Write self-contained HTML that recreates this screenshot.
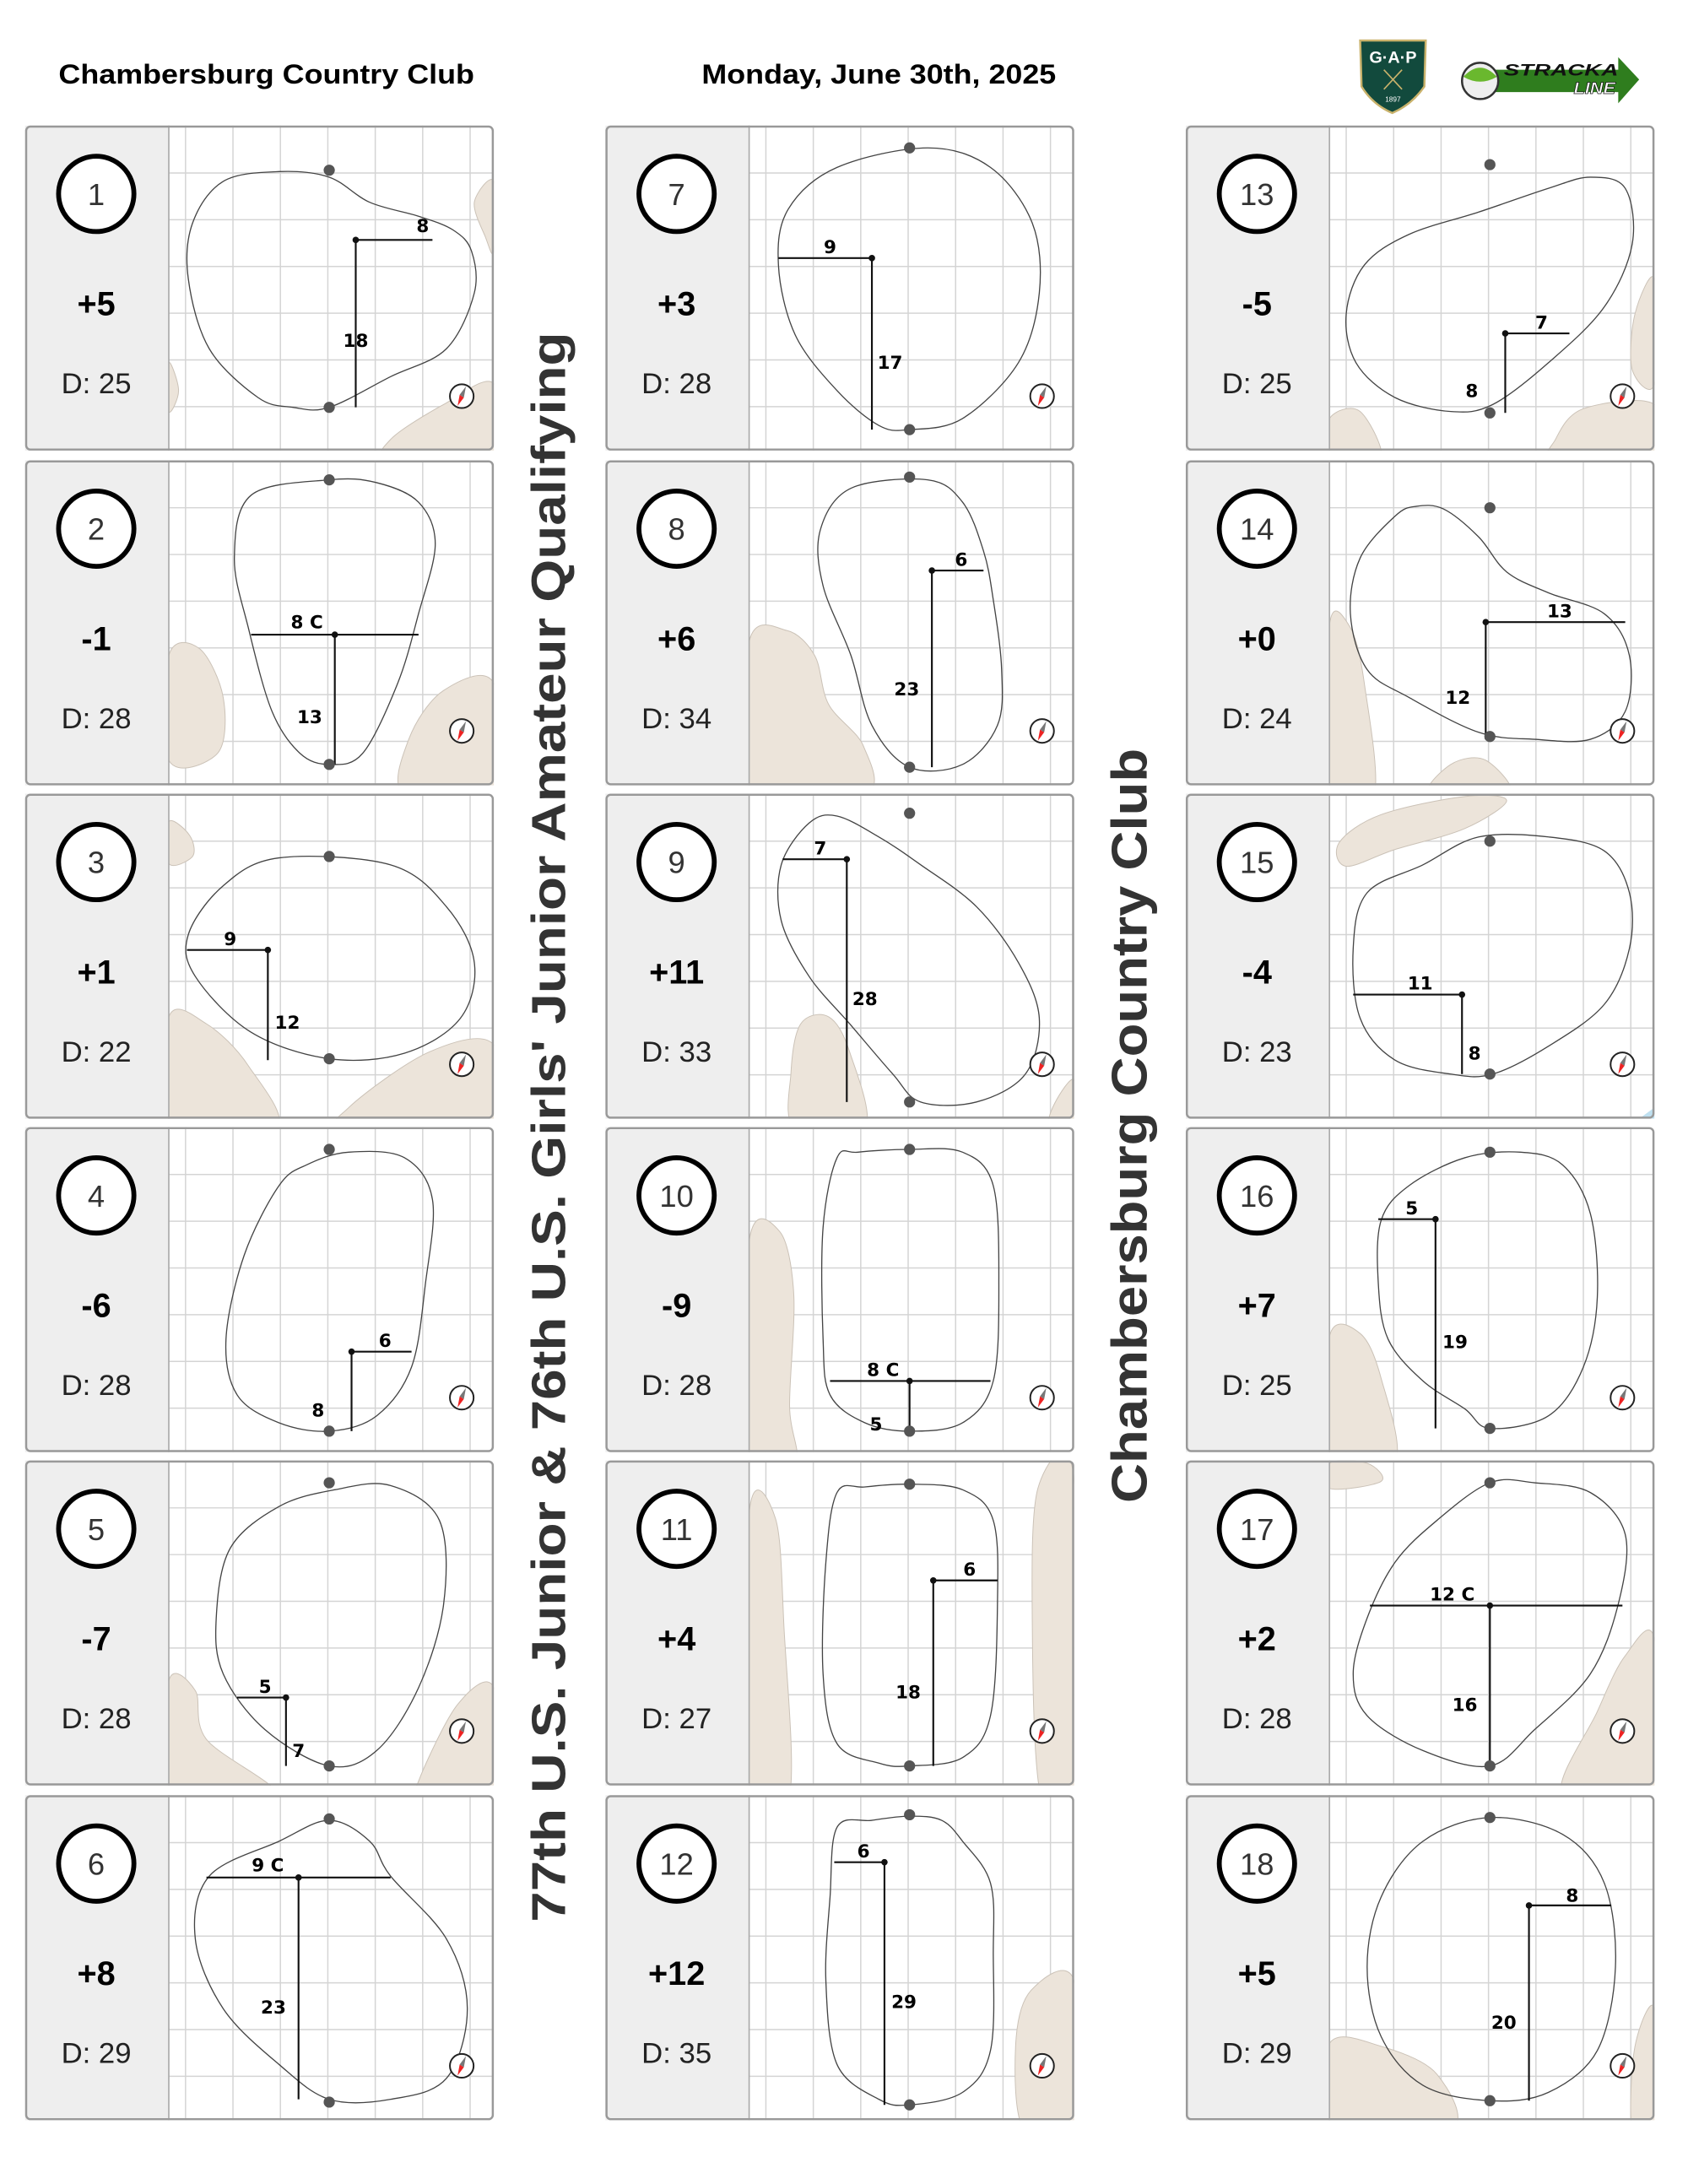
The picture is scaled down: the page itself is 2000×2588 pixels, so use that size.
<!DOCTYPE html>
<html><head><meta charset="utf-8"><style>
html,body{margin:0;padding:0;background:#fff;width:2000px;height:2588px;overflow:hidden}
svg{display:block}
</style></head><body>
<svg id="s" xmlns="http://www.w3.org/2000/svg" width="2000" height="2588" viewBox="0 0 1210 1565.7" font-family="Liberation Sans, Arial, sans-serif">
<rect width="1210" height="1566" fill="#fff"/>
<text x="191" y="60" font-size="19.5" font-weight="bold" text-anchor="middle" textLength="298" lengthAdjust="spacingAndGlyphs">Chambersburg Country Club</text>
<text x="630" y="60" font-size="19.5" font-weight="bold" text-anchor="middle" textLength="254" lengthAdjust="spacingAndGlyphs">Monday, June 30th, 2025</text>
<text transform="translate(405,808) rotate(-90)" font-size="34" font-weight="bold" fill="#333" text-anchor="middle" textLength="1140" lengthAdjust="spacingAndGlyphs">77th U.S. Junior &amp; 76th U.S. Girls' Junior Amateur Qualifying</text>
<text transform="translate(822,807) rotate(-90)" font-size="36" font-weight="bold" fill="#333" text-anchor="middle" textLength="541" lengthAdjust="spacingAndGlyphs">Chambersburg Country Club</text>
<g>
<path d="M975,29 L1022,29 L1021,62 Q1012,75 998,81 Q984,75 976,62 Z" fill="#124a3d" stroke="#c9b26b" stroke-width="1.5"/>
<text x="998.5" y="45" font-size="12" font-weight="bold" fill="#fff" text-anchor="middle">G·A·P</text>
<path d="M992,50 L1005,64 M1005,50 L992,64" stroke="#c9b26b" stroke-width="1"/>
<text x="998.5" y="73" font-size="5" fill="#fff" text-anchor="middle">1897</text>
</g>
<g>
<path d="M1060,50 L1160,50 L1160,41 L1175,57 L1160,74 L1160,66 L1060,66 Z" fill="#2f7d1e"/>
<circle cx="1061" cy="58" r="13" fill="#eee" stroke="#333" stroke-width="1.5"/>
<path d="M1049,55 Q1061,42 1073,55 Q1061,62 1049,55 Z" fill="#6ab82e"/>
<text x="1078" y="54" font-size="12" font-weight="bold" font-style="italic" fill="#111" textLength="82" lengthAdjust="spacingAndGlyphs">STRACKA</text>
<text x="1128" y="67" font-size="12" font-weight="bold" font-style="italic" fill="#fff" stroke="#111" stroke-width="0.4" textLength="30" lengthAdjust="spacingAndGlyphs">LINE</text>
</g>
<g id="cards"></g>
</svg>
<script>
var H=[
{n:1,s:"+5",d:25,p:[[182,33],[142,40],[120,70],[117,110],[132,160],[167,195],[192,202],[218,202],[262,180],[302,160],[322,120],[320,90],[307,75],[282,65],[247,55],[218,37]],t:32,b:202,m:[[237,82],[292,82],[237,202]],l:[["8",285,72],["18",237,154]],k:[[[336,40],[322,55],[330,80],[336,90]],[[336,185],[300,200],[262,225],[262,240],[336,240]],[[103,170],[110,190],[103,205]]]},
{n:2,s:"-1",d:28,p:[[218,14],[162,25],[150,70],[160,120],[177,180],[197,210],[218,218],[242,210],[267,160],[282,110],[294,60],[282,30],[252,16]],t:14,b:218,m:[[222,125],[282,125],[222,218],[162]],l:[["8 C",202,116],["13",204,184]],k:[[[103,140],[125,135],[142,170],[138,210],[103,215]],[[336,160],[300,165],[275,200],[272,240],[336,240]]]},
{n:3,s:"+1",d:22,p:[[182,46],[142,66],[117,101],[122,131],[162,171],[218,190],[272,186],[312,161],[322,121],[302,81],[262,51]],t:45,b:190,m:[[174,112],[116,112],[174,191]],l:[["9",147,104],["12",188,164]],k:[[[103,160],[130,165],[160,195],[180,240],[103,240]],[[336,180],[290,185],[232,225],[232,240],[336,240]],[[103,20],[118,30],[120,45],[103,50]]]},
{n:4,s:"-6",d:28,p:[[182,42],[157,92],[144,152],[152,192],[182,212],[218,218],[252,207],[277,172],[287,112],[292,52],[272,22],[232,18],[202,27]],t:16,b:218,m:[[234,161],[277,161],[234,218]],l:[["6",258,153],["8",210,203]],k:[]},
{n:5,s:"-7",d:28,p:[[182,33],[147,63],[137,113],[142,153],[172,193],[218,219],[252,208],[282,163],[300,103],[297,43],[262,18],[222,21]],t:16,b:219,m:[[187,170],[152,170],[187,219]],l:[["5",172,162],["7",196,208]],k:[[[103,158],[122,165],[130,200],[180,240],[103,240]],[[336,163],[310,175],[282,230],[285,240],[336,240]]]},
{n:6,s:"+8",d:29,p:[[132,58],[182,33],[218,18],[247,33],[262,58],[302,103],[317,153],[302,203],[262,218],[218,218],[182,193],[142,153],[122,103]],t:17,b:220,m:[[196,59],[262,59],[196,218],[130]],l:[["9 C",174,50],["23",178,152]],k:[]},
{n:7,s:"+3",d:28,p:[[166,30],[131,60],[124,100],[136,150],[166,190],[196,215],[218,218],[256,210],[296,170],[311,120],[306,70],[276,30],[231,16]],t:16,b:218,m:[[191,95],[124,95],[191,218]],l:[["9",161,87],["17",204,170]],k:[]},
{n:8,s:"+6",d:34,p:[[176,20],[154,50],[156,90],[176,140],[191,190],[218,220],[256,218],[281,190],[284,150],[278,100],[271,65],[256,30],[231,14]],t:12,b:220,m:[[234,79],[271,79],[234,220]],l:[["6",255,71],["23",216,164]],k:[[[103,130],[130,122],[150,140],[160,175],[185,205],[186,240],[103,240]]]},
{n:9,s:"+11",d:33,p:[[146,21],[126,51],[126,91],[146,131],[176,166],[206,201],[226,221],[266,221],[301,201],[311,161],[296,121],[266,81],[226,51],[196,31],[166,16]],t:14,b:221,m:[[173,47],[127,47],[173,221]],l:[["7",154,39],["28",186,147]],k:[[[140,165],[160,160],[175,185],[186,240],[136,240],[133,200]],[[336,205],[322,222],[318,240],[336,240]]]},
{n:10,s:"-9",d:28,p:[[166,22],[156,72],[156,152],[161,192],[186,212],[218,218],[256,212],[278,182],[282,112],[278,42],[256,18],[218,16],[181,18]],t:16,b:218,m:[[218,182],[276,182],[218,218],[161]],l:[["8 C",199,174],["5",194,213]],k:[[[103,82],[125,75],[135,120],[132,200],[136,240],[103,240]]]},
{n:11,s:"+4",d:27,p:[[166,23],[158,73],[156,153],[166,203],[196,217],[218,219],[256,213],[276,183],[281,103],[278,43],[256,21],[218,17],[186,19]],t:17,b:219,m:[[235,86],[281,86],[235,219]],l:[["6",261,78],["18",217,166]],k:[[[103,38],[122,42],[128,120],[132,240],[103,240]],[[336,13],[310,20],[306,120],[312,240],[336,240]]]},
{n:12,s:"+12",d:35,p:[[166,23],[161,73],[158,133],[166,193],[196,218],[218,222],[256,213],[276,183],[278,113],[276,63],[256,33],[241,18],[218,15],[191,18]],t:14,b:222,m:[[200,48],[164,48],[200,222]],l:[["6",185,40],["29",214,148]],k:[[[336,133],[305,140],[294,180],[300,240],[336,240]]]},
{n:13,s:"-5",d:25,p:[[160,78],[128,100],[115,135],[122,170],[150,195],[190,205],[220,200],[260,170],[300,130],[320,85],[315,45],[290,37],[260,45],[210,62]],t:28,b:206,m:[[229,149],[275,149],[229,206]],l:[["7",255,141],["8",205,190]],k:[[[103,210],[125,205],[140,240],[103,240]],[[336,200],[285,203],[265,225],[265,240],[336,240]],[[336,110],[322,135],[320,175],[336,185]]]},
{n:14,s:"+0",d:24,p:[[150,40],[125,70],[118,110],[130,150],[160,170],[210,195],[250,200],[290,200],[315,180],[318,140],[300,110],[260,95],[230,80],[210,55],[185,35],[165,33]],t:34,b:198,m:[[215,116],[315,116],[215,200]],l:[["13",268,108],["12",195,170]],k:[[[103,118],[118,120],[128,160],[135,240],[103,240]],[[175,240],[190,218],[215,215],[232,240]]]},
{n:15,s:"-4",d:23,p:[[130,71],[120,111],[125,161],[150,191],[190,201],[220,201],[260,181],[300,151],[318,111],[318,71],[300,41],[260,31],[210,31],[170,51]],t:34,b:201,m:[[198,144],[120,144],[198,201]],l:[["11",168,136],["8",207,186]],k:[[[110,35],[140,15],[200,2],[230,5],[200,25],[150,40],[115,52]]]},
{n:16,s:"+7",d:25,p:[[140,67],[138,112],[145,152],[170,182],[200,202],[218,216],[260,207],[285,172],[295,122],[290,62],[270,27],[240,18],[200,22],[160,42]],t:18,b:216,m:[[179,66],[138,66],[179,216]],l:[["5",162,58],["19",193,154]],k:[[[103,150],[125,148],[140,180],[150,240],[103,240]]]},
{n:17,s:"+2",d:28,p:[[180,43],[150,73],[130,113],[120,153],[130,183],[170,208],[218,219],[250,193],[290,153],[310,103],[315,53],[290,23],[250,16],[218,16]],t:16,b:219,m:[[218,104],[313,104],[218,219],[132]],l:[["12 C",191,96],["16",200,175]],k:[[[336,128],[315,140],[295,180],[270,240],[336,240]],[[103,2],[130,2],[140,15],[103,20]]]},
{n:18,s:"+5",d:29,p:[[170,33],[140,73],[130,123],[140,173],[170,208],[218,219],[260,213],[295,183],[308,123],[300,63],[270,28],[218,16]],t:16,b:219,m:[[246,79],[305,79],[246,219]],l:[["8",277,72],["20",228,163]],k:[[[103,178],[140,180],[180,200],[190,240],[103,240]],[[336,153],[322,180],[320,240],[336,240]]]}
];
function sm(p){var n=p.length,d="M"+p[0][0]+","+p[0][1];for(var i=0;i<n;i++){var a=p[(i-1+n)%n],b=p[i],c=p[(i+1)%n],e=p[(i+2)%n];d+=" C"+(b[0]+(c[0]-a[0])/6).toFixed(1)+","+(b[1]+(c[1]-a[1])/6).toFixed(1)+" "+(c[0]-(e[0]-b[0])/6).toFixed(1)+","+(c[1]-(e[1]-b[1])/6).toFixed(1)+" "+c[0]+","+c[1];}return d+"Z";}
var X=[18,434,850],Y=[90,330,569,808,1047,1287],o="";
H.forEach(function(h,i){var cx=X[Math.floor(i/6)],cy=Y[i%6];
o+='<g transform="translate('+cx+','+cy+')">';
o+='<clipPath id="c'+i+'"><rect x="103" y="0" width="233" height="233"/></clipPath>';
o+='<rect x="0" y="0" width="336" height="233" rx="3" fill="#fff"/>';
o+='<g clip-path="url(#c'+i+')">';
for(var k=0;k<7;k++){var gx=115+34*k;o+='<line x1="'+gx+'" y1="0" x2="'+gx+'" y2="233" stroke="#d4d4d4" stroke-width="0.9"/>';}
for(var k=0;k<7;k++){var gy=34+33.5*k;o+='<line x1="103" y1="'+gy+'" x2="336" y2="'+gy+'" stroke="#d4d4d4" stroke-width="0.9"/>';}
h.k.forEach(function(b){o+='<path d="'+sm(b)+'" fill="#ece4da" stroke="#cbc2b7" stroke-width="0.6"/>';});
if(h.n==15)o+='<path d="M325,233 L336,225 L336,233Z" fill="#bfe0f0"/>';
o+='<path d="'+sm(h.p)+'" fill="none" stroke="#444" stroke-width="0.8"/>';
var m=h.m;
o+='<line x1="'+(m[3]?m[3][0]:m[0][0])+'" y1="'+m[0][1]+'" x2="'+m[1][0]+'" y2="'+m[1][1]+'" stroke="#111" stroke-width="1.3"/>';
o+='<line x1="'+m[0][0]+'" y1="'+m[0][1]+'" x2="'+m[2][0]+'" y2="'+m[2][1]+'" stroke="#111" stroke-width="1.3"/>';
o+='<circle cx="'+m[0][0]+'" cy="'+m[0][1]+'" r="2.3" fill="#111"/>';
o+='<circle cx="218" cy="'+h.t+'" r="4" fill="#555"/><circle cx="218" cy="'+h.b+'" r="4" fill="#555"/>';
h.l.forEach(function(l){o+='<text x="'+l[1]+'" y="'+(l[2]+4.5)+'" font-size="13" font-weight="bold" text-anchor="middle" font-family="DejaVu Sans, sans-serif">'+l[0]+'</text>';});
o+='<g transform="translate(313,194)"><circle r="8.5" fill="#fff" stroke="#222" stroke-width="1.2"/><path d="M-1.5,-1 L1.5,1 L-3,7Z" fill="#e22"/><path d="M-1.5,-1 L1.5,1 L3,-7Z" fill="#777"/></g>';
o+='</g>';
o+='<rect x="0" y="0" width="103" height="233" fill="#eeeeee"/>';
o+='<line x1="103" y1="0" x2="103" y2="233" stroke="#aaa" stroke-width="1"/>';
o+='<rect x="0.75" y="0.75" width="334.5" height="231.5" rx="3" fill="none" stroke="#999" stroke-width="1.5"/>';
o+='<circle cx="51" cy="49" r="27" fill="#fff" stroke="#000" stroke-width="3.5"/>';
o+='<text x="51" y="57" font-size="22" fill="#333" text-anchor="middle">'+h.n+'</text>';
o+='<text x="51" y="136" font-size="24" font-weight="bold" text-anchor="middle">'+h.s+'</text>';
o+='<text x="51" y="192" font-size="21" fill="#222" text-anchor="middle">D: '+h.d+'</text>';
o+='</g>';});
document.getElementById("cards").innerHTML=o;
</script>
</body></html>
